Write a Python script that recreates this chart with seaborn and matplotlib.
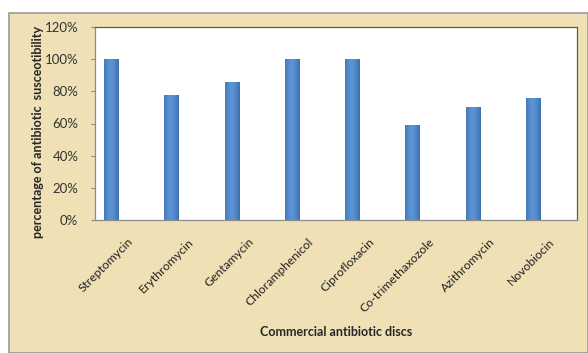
import matplotlib
matplotlib.use("Agg")
import matplotlib.pyplot as plt
import matplotlib.transforms as mtransforms
from matplotlib.patches import Rectangle
from matplotlib.ticker import PercentFormatter, MultipleLocator
import numpy as np
import seaborn as sns

# data
antibiotics = ["Streptomycin", "Erythromycin", "Gentamycin", "Chloramphenicol",
               "Ciprofloxacin", "Co-trimethaxozole", "Azithromycin", "Novobiocin"]
susceptibility = [100, 78, 86, 100, 100, 59, 70, 76]

sns.set_style("white")
plt.rcParams["font.family"] = ["Lato", "DejaVu Sans"]

fig = plt.figure(figsize=(5.88, 3.53), dpi=100, facecolor="white")

# parchment coloured chart area
fig.patches.append(Rectangle((9 / 588, 0), 1 - 9 / 588, 340 / 353,
                             transform=fig.transFigure, facecolor="#efe0b6",
                             edgecolor="#9a9a9a", linewidth=1.2, zorder=-5))

ax = fig.add_axes([95 / 588, 1 - 220 / 353, 482 / 588, 193 / 353])
ax.set_zorder(2)
ax.set_facecolor("white")

bar_w = 0.233
sns.barplot(x=antibiotics, y=susceptibility, color="#4a7ebb", width=bar_w,
            saturation=1, ax=ax)

# cylinder-like shading inside each bar
grad = np.linspace(0, 1, 64)
shade = 1 - 0.55 * (2 * np.abs(grad - 0.45)) ** 1.6
cmap = matplotlib.colors.LinearSegmentedColormap.from_list(
    "bar", ["#2c5a93", "#5b93d6"])
for p in ax.patches:
    x0, y0 = p.get_x(), p.get_y()
    w, h = p.get_width(), p.get_height()
    im = ax.imshow(shade[np.newaxis, :], cmap=cmap, aspect="auto",
                   extent=[x0, x0 + w, y0, y0 + h], vmin=0, vmax=1, zorder=3)
    im.set_clip_path(p)
    p.set_edgecolor("#3a6aa3")
    p.set_linewidth(0.5)

# the bar sits left of its category centre (first slot of a 3-slot cluster)
n = len(antibiotics)
ax.set_xlim(-0.5 + bar_w, n - 0.5 + bar_w)
ax.set_xticks(np.arange(n) + bar_w, antibiotics)
ax.set_ylim(0, 120)
ax.yaxis.set_major_locator(MultipleLocator(20))
ax.yaxis.set_major_formatter(PercentFormatter(decimals=0))

for side in ["left", "bottom"]:
    ax.spines[side].set_color("#8c8c8c")
for side in ["top", "right"]:
    ax.spines[side].set_color("#55663a")
for s in ax.spines.values():
    s.set_linewidth(0.9)

ax.tick_params(axis="y", length=3, color="#8c8c8c", labelsize=9.5,
               labelcolor="#333333", pad=9, left=True)
ax.tick_params(axis="x", length=0, labelsize=8.7, labelcolor="#222222", pad=0)

offset = mtransforms.ScaledTranslation(6 / 100, -20 / 100, fig.dpi_scale_trans)
for lbl in ax.get_xticklabels():
    lbl.set_rotation(45)
    lbl.set_ha("right")
    lbl.set_va("center")
    lbl.set_rotation_mode("anchor")
    lbl.set_transform(lbl.get_transform() + offset)

ax.set_xlabel("")
fig.text(336 / 588, 1 - 332 / 353, "Commercial antibiotic discs",
         ha="center", va="center", fontsize=9, fontweight="bold")
fig.text(38 / 588, 1 - 132 / 353, "percentage of antibiotic  susceotibility",
         ha="center", va="center", rotation=90, fontsize=9,
         fontweight="bold")

fig.savefig("out.png", dpi=100, facecolor="white")
